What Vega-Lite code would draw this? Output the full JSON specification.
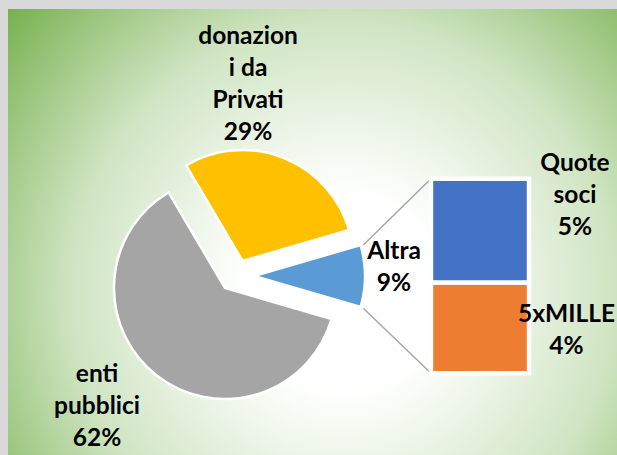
{
  "$schema": "https://vega.github.io/schema/vega-lite/v6.json",
  "width": 609,
  "height": 446,
  "autosize": {"type": "none"},
  "padding": {"left": 8, "top": 9, "right": 0, "bottom": 0},
  "background": "#d9d9d9",
  "config": {
    "view": {
      "stroke": null,
      "fill": {
        "gradient": "radial",
        "x1": 0.55, "y1": 0.6, "r1": 0,
        "x2": 0.55, "y2": 0.6, "r2": 0.74,
        "stops": [
          {"offset": 0, "color": "#ffffff"},
          {"offset": 0.22, "color": "#ffffff"},
          {"offset": 0.6, "color": "#d0e5c3"},
          {"offset": 1, "color": "#70ad47"}
        ]
      }
    },
    "text": {"font": "Lato", "fontWeight": "bold", "fontSize": 24.5, "lineHeight": 32, "lineBreak": "\n", "color": "#000000"}
  },
  "datasets": {
    "pie": [
      {"cat": "enti pubblici", "value": 62, "ord": 1, "label": "enti\npubblici\n62%"},
      {"cat": "donazioni da Privati", "value": 29, "ord": 2, "label": "donazion\ni  da\nPrivati\n29%"},
      {"cat": "Altra", "value": 9, "ord": 3, "label": "Altra\n9%"}
    ],
    "bar": [
      {"grp": "Altra", "cat": "5xMILLE", "value": 4.2, "ord": 1, "label": "5xMILLE\n4%"},
      {"grp": "Altra", "cat": "Quote soci", "value": 4.8, "ord": 2, "label": "Quote\nsoci\n5%"}
    ]
  },
  "layer": [
    {
      "data": {"name": "pie"},
      "mark": {"type": "arc", "outerRadius": 111, "stroke": "#ffffff", "strokeWidth": 2.5, "xOffset": -87.5, "yOffset": 56},
      "encoding": {
        "theta": {"field": "value", "type": "quantitative", "stack": true, "scale": {"domain": [0, 100], "range": [1.8535, 8.1367]}},
        "order": {"field": "ord", "type": "quantitative"},
        "color": {"field": "cat", "type": "nominal", "legend": null,
          "scale": {"domain": ["enti pubblici", "donazioni da Privati", "Altra", "Quote soci", "5xMILLE"],
                    "range": ["#a5a5a5", "#ffc000", "#5b9bd5", "#4472c4", "#ed7d31"]}},
        "opacity": {"condition": {"test": "datum.cat === 'enti pubblici'", "value": 1}, "value": 0}
      }
    },
    {
      "data": {"name": "pie"},
      "mark": {"type": "arc", "outerRadius": 111, "stroke": "#ffffff", "strokeWidth": 2.5, "xOffset": -69.9, "yOffset": 29},
      "encoding": {
        "theta": {"field": "value", "type": "quantitative", "stack": true, "scale": {"domain": [0, 100], "range": [1.8535, 8.1367]}},
        "order": {"field": "ord", "type": "quantitative"},
        "color": {"field": "cat", "type": "nominal", "legend": null},
        "opacity": {"condition": {"test": "datum.cat === 'donazioni da Privati'", "value": 1}, "value": 0}
      }
    },
    {
      "data": {"name": "pie"},
      "mark": {"type": "arc", "outerRadius": 111, "stroke": "#ffffff", "strokeWidth": 2.5, "xOffset": -58.5, "yOffset": 44},
      "encoding": {
        "theta": {"field": "value", "type": "quantitative", "stack": true, "scale": {"domain": [0, 100], "range": [1.8535, 8.1367]}},
        "order": {"field": "ord", "type": "quantitative"},
        "color": {"field": "cat", "type": "nominal", "legend": null},
        "opacity": {"condition": {"test": "datum.cat === 'Altra'", "value": 1}, "value": 0}
      }
    },
    {
      "data": {"name": "bar"},
      "transform": [
        {"stack": "value", "groupby": ["grp"], "sort": [{"field": "ord", "order": "ascending"}], "as": ["v0", "v1"]},
        {"filter": "datum.cat === 'Quote soci'"}
      ],
      "mark": {"type": "rule", "color": "#a6a6a6", "strokeWidth": 1.5},
      "encoding": {
        "x": {"field": "grp", "type": "nominal", "bandPosition": 0, "axis": null,
              "scale": {"domain": ["Altra"], "range": [423, 521], "paddingInner": 0, "paddingOuter": 0}},
        "y": {"field": "v1", "type": "quantitative", "axis": null, "scale": {"domain": [0, 9], "range": [364.2, 169.8]}},
        "x2": {"value": 355.3},
        "y2": {"value": 236}
      }
    },
    {
      "data": {"name": "bar"},
      "transform": [
        {"stack": "value", "groupby": ["grp"], "sort": [{"field": "ord", "order": "ascending"}], "as": ["v0", "v1"]},
        {"filter": "datum.cat === '5xMILLE'"}
      ],
      "mark": {"type": "rule", "color": "#a6a6a6", "strokeWidth": 1.5},
      "encoding": {
        "x": {"field": "grp", "type": "nominal", "bandPosition": 0, "axis": null},
        "y": {"field": "v0", "type": "quantitative", "axis": null},
        "x2": {"value": 355.3},
        "y2": {"value": 299.3}
      }
    },
    {
      "data": {"name": "bar"},
      "mark": {"type": "bar", "stroke": "#ffffff", "strokeWidth": 4.4},
      "encoding": {
        "x": {"field": "grp", "type": "nominal", "axis": null},
        "y": {"field": "value", "type": "quantitative", "stack": "zero", "axis": null},
        "order": {"field": "ord", "type": "quantitative"},
        "color": {"field": "cat", "type": "nominal", "legend": null}
      }
    },
    {
      "data": {"name": "pie"},
      "mark": {"type": "text", "radius": 175, "xOffset": -87.5, "yOffset": 56, "dx": -20.7, "dy": -51.3},
      "encoding": {
        "theta": {"field": "value", "type": "quantitative", "stack": true},
        "order": {"field": "ord", "type": "quantitative"},
        "detail": {"field": "cat", "type": "nominal"},
        "text": {"condition": {"test": "datum.cat === 'enti pubblici'", "field": "label", "type": "nominal"}, "value": ""}
      }
    },
    {
      "data": {"name": "pie"},
      "mark": {"type": "text", "radius": 204, "xOffset": -87.5, "yOffset": 56, "dx": -52, "dy": -61},
      "encoding": {
        "theta": {"field": "value", "type": "quantitative", "stack": true},
        "order": {"field": "ord", "type": "quantitative"},
        "detail": {"field": "cat", "type": "nominal"},
        "text": {"condition": {"test": "datum.cat === 'donazioni da Privati'", "field": "label", "type": "nominal"}, "value": ""}
      }
    },
    {
      "data": {"name": "pie"},
      "mark": {"type": "text", "radius": 170, "xOffset": -87.5, "yOffset": 56, "dx": -1, "dy": -36},
      "encoding": {
        "theta": {"field": "value", "type": "quantitative", "stack": true},
        "order": {"field": "ord", "type": "quantitative"},
        "detail": {"field": "cat", "type": "nominal"},
        "text": {"condition": {"test": "datum.cat === 'Altra'", "field": "label", "type": "nominal"}, "value": ""}
      }
    },
    {
      "data": {"name": "bar"},
      "mark": {"type": "text", "dx": 95, "dy": -66.6},
      "encoding": {
        "x": {"field": "grp", "type": "nominal", "axis": null},
        "y": {"field": "value", "type": "quantitative", "stack": "zero", "bandPosition": 0.5, "axis": null},
        "order": {"field": "ord", "type": "quantitative"},
        "detail": {"field": "cat", "type": "nominal"},
        "text": {"condition": {"test": "datum.cat === 'Quote soci'", "field": "label", "type": "nominal"}, "value": ""}
      }
    },
    {
      "data": {"name": "bar"},
      "mark": {"type": "text", "dx": 86.5, "dy": -13.3},
      "encoding": {
        "x": {"field": "grp", "type": "nominal", "axis": null},
        "y": {"field": "value", "type": "quantitative", "stack": "zero", "bandPosition": 0.5, "axis": null},
        "order": {"field": "ord", "type": "quantitative"},
        "detail": {"field": "cat", "type": "nominal"},
        "text": {"condition": {"test": "datum.cat === '5xMILLE'", "field": "label", "type": "nominal"}, "value": ""}
      }
    }
  ]
}
